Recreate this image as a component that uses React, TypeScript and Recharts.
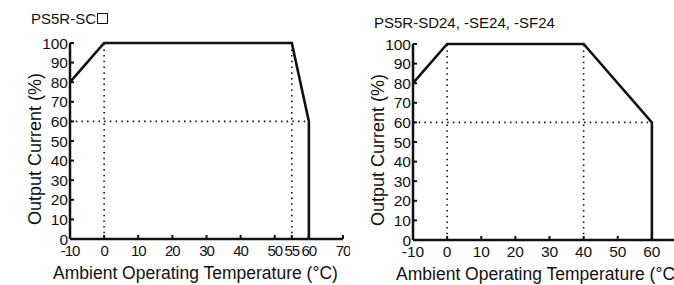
import { LineChart, Line, XAxis, YAxis, Label } from 'recharts';

// tick labels
const yTicks = [0, 10, 20, 30, 40, 50, 60, 70, 80, 90, 100];
const leftXTicks = [-10, 0, 10, 20, 30, 40, 50, 55, 60, 70];
const rightXTicks = [-10, 0, 10, 20, 30, 40, 50, 60, 70];

// derating curves (temperature °C -> output current %)
const scCurve = [
    { x: -10, y: 80 },
    { x: 0, y: 100 },
    { x: 55, y: 100 },
    { x: 60, y: 60 },
    { x: 60, y: 0 },
];
const sdCurve = [
    { x: -10, y: 80 },
    { x: 0, y: 100 },
    { x: 40, y: 100 },
    { x: 60, y: 60 },
    { x: 60, y: 0 },
];

// dotted guide lines
const guideAt0 = [{ x: 0, y: 0 }, { x: 0, y: 100 }];
const guideAt55 = [{ x: 55, y: 0 }, { x: 55, y: 100 }];
const guideAt40 = [{ x: 40, y: 0 }, { x: 40, y: 100 }];
const guideAt60pct = [{ x: -10, y: 60 }, { x: 60, y: 60 }];

const INK = '#111';
const FONT = '"Liberation Sans", Arial, sans-serif';

type Pt = { x: number; y: number };

function DeratingChart({ curve, guides, xTicks, tickFont, tickSpacing }: { curve: Pt[]; guides: Pt[][]; xTicks: number[]; tickFont: number; tickSpacing: number }) {
    return (
        <LineChart width={350} height={285} margin={{ top: 43, right: 7, bottom: 0, left: 0 }} style={{ overflow: 'visible' }}>
            <XAxis
                type="number"
                dataKey="x"
                domain={[-10, 70]}
                ticks={xTicks}
                interval={0}
                height={46}
                tickSize={-4}
                tickMargin={10}
                axisLine={{ stroke: INK, strokeWidth: 2.5 }}
                tickLine={{ stroke: INK, strokeWidth: 2 }}
                tick={{ fill: INK, fontSize: tickFont, fontFamily: FONT, letterSpacing: tickSpacing }}
            >
                <Label
                    value="Ambient Operating Temperature (°C)"
                    position="center"
                    dx={-11}
                    dy={11}
                    style={{ fill: INK, fontSize: 17.5, fontFamily: FONT }}
                />
            </XAxis>
            <YAxis
                type="number"
                domain={[0, 100]}
                ticks={yTicks}
                interval={0}
                width={70}
                tickSize={-4}
                tickMargin={6}
                axisLine={{ stroke: INK, strokeWidth: 2.5 }}
                tickLine={{ stroke: INK, strokeWidth: 2 }}
                tick={{ fill: INK, fontSize: 15.5, fontFamily: FONT }}
            >
                <Label
                    value="Output Current (%)"
                    angle={-90}
                    position="center"
                    dy={8}
                    style={{ fill: INK, fontSize: 18, fontFamily: FONT, textAnchor: 'middle' }}
                />
            </YAxis>
            {guides.map((g, i) => (
                <Line
                    key={i}
                    data={g}
                    dataKey="y"
                    stroke={INK}
                    strokeWidth={1.6}
                    strokeDasharray="1.5 4.2"
                    dot={false}
                    activeDot={false}
                    isAnimationActive={false}
                />
            ))}
            <Line
                data={curve}
                dataKey="y"
                stroke={INK}
                strokeWidth={2.6}
                dot={false}
                activeDot={false}
                isAnimationActive={false}
            />
        </LineChart>
    );
}

export default function App() {
    const titleStyle = {
        position: 'absolute' as const,
        fontFamily: FONT,
        fontSize: 15,
        lineHeight: '16px',
        color: INK,
        whiteSpace: 'nowrap' as const,
    };
    return (
        <div style={{ position: 'fixed', left: 0, top: 0, width: 674, height: 285, overflow: 'hidden', background: '#fff' }}>
            <div style={{ ...titleStyle, left: 31, top: 11 }}>
                PS5R-SC
                <span style={{ display: 'inline-block', width: 9, height: 9, border: `1.6px solid ${INK}`, marginLeft: 1 }} />
            </div>
            <div style={{ ...titleStyle, left: 374, top: 15 }}>PS5R-SD24, -SE24, -SF24</div>
            <div style={{ position: 'absolute', left: 0, top: 0 }}>
                <DeratingChart curve={scCurve} guides={[guideAt0, guideAt55, guideAt60pct]} xTicks={leftXTicks} tickFont={15} tickSpacing={-1} />
            </div>
            <div style={{ position: 'absolute', left: 343, top: 1 }}>
                <DeratingChart curve={sdCurve} guides={[guideAt0, guideAt40, guideAt60pct]} xTicks={rightXTicks} tickFont={15.5} tickSpacing={0} />
            </div>
        </div>
    );
}
